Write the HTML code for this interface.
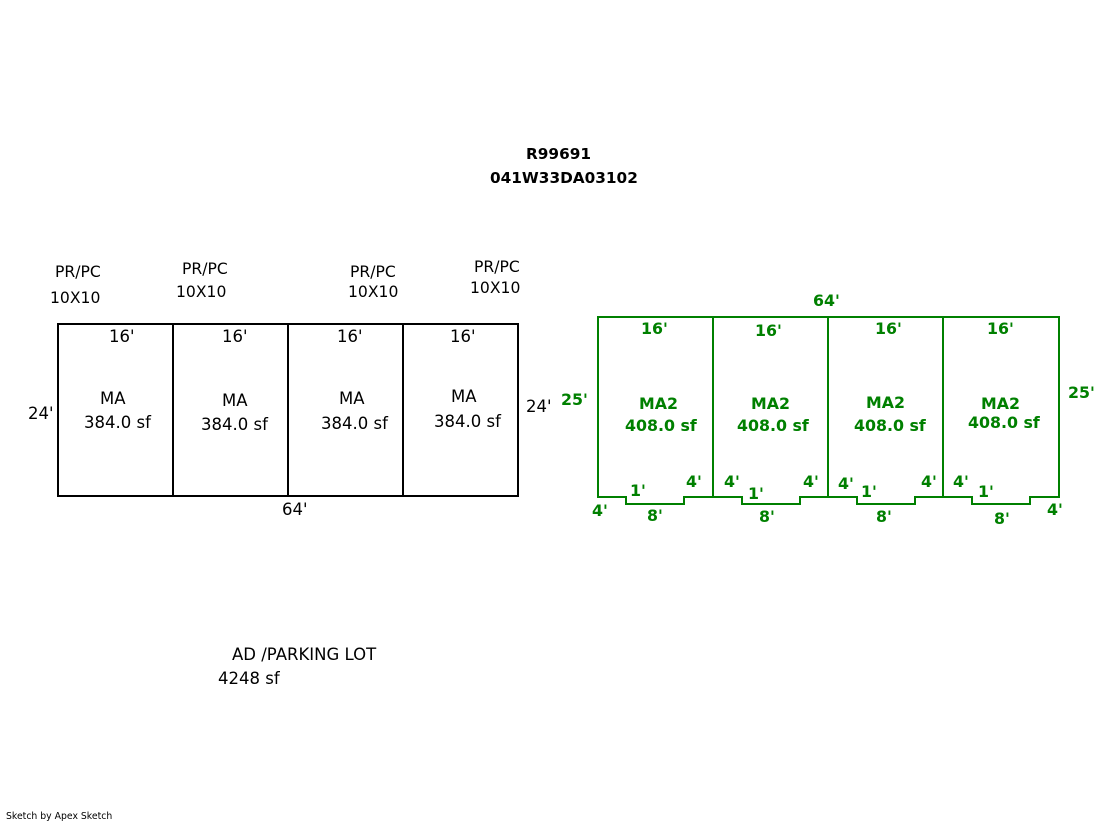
<!DOCTYPE html>
<html><head><style>
body{margin:0;width:1119px;height:821px;background:#fff;overflow:hidden}
svg text{font-family:Verdana,"DejaVu Sans",sans-serif}
</style></head><body>
<svg width="1119" height="821" xmlns="http://www.w3.org/2000/svg">
<g font-weight="bold" font-size="15.3" fill="#000">
<text x="526" y="159">R99691</text>
<text x="490" y="183">041W33DA03102</text>
</g>
<g font-size="15.6" fill="#000">
<text x="55" y="277">PR/PC</text><text x="50" y="303">10X10</text>
<text x="182" y="274">PR/PC</text><text x="176" y="297">10X10</text>
<text x="350" y="277">PR/PC</text><text x="348" y="297">10X10</text>
<text x="474" y="272">PR/PC</text><text x="470" y="293">10X10</text>
</g>
<g fill="none" stroke="#000" stroke-width="2">
<rect x="58" y="324" width="460" height="172"/>
<line x1="173" y1="324" x2="173" y2="496"/><line x1="288" y1="324" x2="288" y2="496"/><line x1="403" y1="324" x2="403" y2="496"/>
</g>
<g font-size="16.5" fill="#000">
<text x="109" y="342">16'</text><text x="222" y="342">16'</text><text x="337" y="342">16'</text><text x="450" y="342">16'</text>
<text x="100" y="404">MA</text><text x="84" y="428">384.0 sf</text>
<text x="222" y="406">MA</text><text x="201" y="430">384.0 sf</text>
<text x="339" y="404">MA</text><text x="321" y="429">384.0 sf</text>
<text x="451" y="402">MA</text><text x="434" y="427">384.0 sf</text>
<text x="28" y="419">24'</text><text x="526" y="412">24'</text><text x="282" y="515">64'</text>
<text x="232" y="660">AD /PARKING LOT</text><text x="218" y="684">4248 sf</text>
</g>
<g fill="none" stroke="#008000" stroke-width="2">
<path d="M598 497 V317 H1059 V497 H1030 V504 H972 V497 H915 V504 H857 V497 H800 V504 H742 V497 H684 V504 H626 V497 Z"/>
<line x1="713" y1="317" x2="713" y2="497"/><line x1="828" y1="317" x2="828" y2="497"/><line x1="943" y1="317" x2="943" y2="497"/>
</g>
<g font-size="15.8" font-weight="bold" fill="#008000">
<text x="813" y="306">64'</text>
<text x="641" y="334">16'</text><text x="755" y="336">16'</text><text x="875" y="334">16'</text><text x="987" y="334">16'</text>
<text x="561" y="405">25'</text><text x="1068" y="398">25'</text>
<text x="639" y="409">MA2</text><text x="625" y="431">408.0 sf</text>
<text x="751" y="409">MA2</text><text x="737" y="431">408.0 sf</text>
<text x="866" y="408">MA2</text><text x="854" y="431">408.0 sf</text>
<text x="981" y="409">MA2</text><text x="968" y="428">408.0 sf</text>
<text x="592" y="516">4'</text><text x="630" y="496">1'</text><text x="686" y="487">4'</text><text x="647" y="521">8'</text>
<text x="724" y="487">4'</text><text x="748" y="499">1'</text><text x="803" y="487">4'</text><text x="759" y="522">8'</text>
<text x="838" y="489">4'</text><text x="861" y="497">1'</text><text x="921" y="487">4'</text><text x="876" y="522">8'</text>
<text x="953" y="487">4'</text><text x="978" y="497">1'</text><text x="1047" y="515">4'</text><text x="994" y="524">8'</text>
</g>
<text x="6" y="819" font-size="9.3" fill="#000">Sketch by Apex Sketch</text>
</svg>
</body></html>
